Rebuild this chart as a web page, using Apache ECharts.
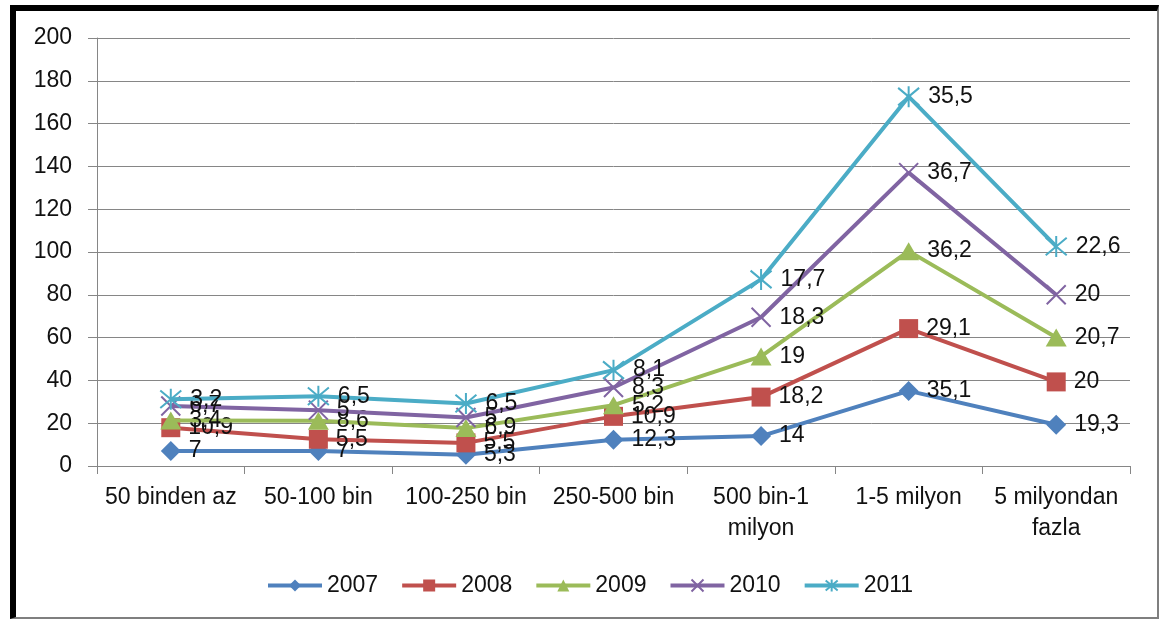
<!DOCTYPE html>
<html><head><meta charset="utf-8">
<script src="https://cdn.jsdelivr.net/npm/echarts@6/dist/echarts.min.js"></script>
<style>
html,body{margin:0;padding:0;background:#fff;}
#c{width:1160px;height:621px;}
#frame{position:absolute;left:10px;top:5px;width:1149px;height:614px;box-sizing:border-box;border-left:6px solid #000;border-top:6px solid #000;border-right:2px solid #7f7f7f;border-bottom:2px solid #7f7f7f;pointer-events:none;}
</style></head>
<body>
<div id="c"></div><div id="frame"></div>
<script>
var categories = ['50 binden az','50-100 bin','100-250 bin','250-500 bin','500 bin-1\nmilyon','1-5 milyon','5 milyondan\nfazla'];
var seriesNames = ['2007','2008','2009','2010','2011'];
var s2007 = [7, 7, 5.3, 12.3, 14, 35.1, 19.3];
var s2008 = [10.9, 5.5, 5.5, 10.9, 18.2, 29.1, 20];
var s2009 = [3.4, 8.6, 6.9, 5.2, 19, 36.2, 20.7];
var s2010 = [6.7, 5, 5, 8.3, 18.3, 36.7, 20];
var s2011 = [3.2, 6.5, 6.5, 8.1, 17.7, 35.5, 22.6];
var allData = [s2007, s2008, s2009, s2010, s2011];
var colors = ['#4F81BD','#C0504D','#9BBB59','#8064A2','#4BACC6'];
var symbols = ['diamond','rect','triangle','path://M0,0L10,10M10,0L0,10','path://M0,0L10,10M10,0L0,10M5,-1L5,11'];
var symbolSizes = [[20,20],[19,19],[21,18],[19,19],[21,21]];
var FONT = "'Liberation Sans', Arial, sans-serif";
var FS = 23;

var series = allData.map(function(d, i){
  var isStroke = i >= 3;
  return {
    name: seriesNames[i],
    type: 'line',
    stack: 'total',
    data: d,
    symbol: symbols[i],
    symbolSize: symbolSizes[i],
    showAllSymbol: true,
    lineStyle: {color: colors[i], width: 4},
    itemStyle: isStroke ? {color: 'rgba(0,0,0,0)', borderColor: colors[i], borderWidth: 2} : {color: colors[i], borderWidth: 0},
    label: {
      show: true, position: 'right', distance: 8,
      color: '#111', fontFamily: FONT, fontSize: FS,
      formatter: function(p){ return String(p.value).replace('.', ','); }
    },
    emphasis: {disabled: true},
    animation: false,
    z: 2 + i
  };
});

var chart = echarts.init(document.getElementById('c'));
chart.setOption({
  animation: false,
  color: colors,
  grid: {left: 97, right: 30, top: 38, bottom: 155, containLabel: false},
  legend: {
    top: 569, left: 261,
    itemWidth: 54, itemHeight: 15, itemGap: 22,
    lineStyle: {width: 4},
    textStyle: {fontFamily: FONT, fontSize: FS, color: '#111'},
    data: seriesNames
  },
  xAxis: {
    type: 'category',
    data: categories,
    boundaryGap: true,
    axisLine: {lineStyle: {color: '#868686', width: 1}},
    axisTick: {show: true, length: 8, lineStyle: {color: '#868686'}, interval: 0},
    axisLabel: {interval: 0, margin: 16, fontFamily: FONT, fontSize: FS, color: '#111', lineHeight: 31}
  },
  yAxis: {
    type: 'value',
    min: 0, max: 200, interval: 20,
    axisLine: {show: true, lineStyle: {color: '#868686', width: 1}},
    axisTick: {show: true, length: 9, lineStyle: {color: '#868686'}},
    splitLine: {show: true, lineStyle: {color: '#868686', width: 1}},
    axisLabel: {margin: 25, fontFamily: FONT, fontSize: FS, color: '#111'}
  },
  series: series
});
</script>
</body></html>
